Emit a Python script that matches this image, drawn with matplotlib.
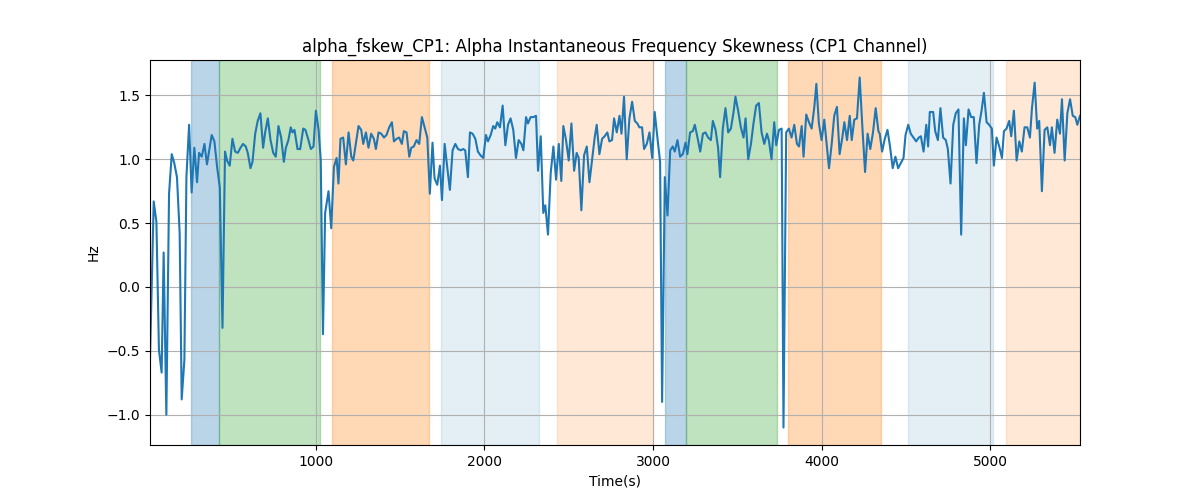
import numpy as np
import matplotlib
matplotlib.use("Agg")
import matplotlib.pyplot as plt

# sample times (s) and values (Hz)
t = [16, 38, 54, 69, 85, 97, 113, 129, 145, 160, 176, 192, 204, 220, 232, 248, 263, 279, 295, 307,
     323, 339, 354, 370, 382, 398, 414, 430, 446, 461, 473, 489, 505, 521, 537, 553, 568, 584, 596, 612,
     624, 640, 655, 671, 687, 699, 715, 731, 747, 762, 778, 794, 810,
     822, 837, 851, 861, 873, 891, 907, 925, 938, 954, 970, 986, 1000, 1016, 1029, 1042, 1055, 1075, 1091, 1107,
     1123, 1134, 1146, 1162, 1178, 1194, 1210, 1222, 1237, 1253, 1269, 1281, 1297, 1312, 1328, 1344, 1356, 1372,
     1388, 1404, 1419,
     1435, 1451, 1463, 1479, 1494, 1510, 1522, 1538, 1554, 1566, 1581, 1597, 1613, 1629, 1645, 1661, 1676, 1692,
     1704, 1720, 1736, 1748, 1764, 1779, 1795, 1811, 1827, 1843, 1859, 1874, 1886, 1902, 1914, 1930, 1946, 1961,
     1977, 1993, 2009, 2021, 2037, 2052, 2064, 2076, 2092, 2108, 2124, 2140, 2155, 2171, 2187, 2203, 2219, 2231,
     2247, 2258, 2274, 2290, 2306, 2318, 2334, 2349, 2361, 2377, 2393, 2409, 2425, 2441, 2456, 2468, 2484, 2500,
     2516, 2532, 2547, 2559, 2575, 2591, 2607, 2623, 2638, 2654, 2666, 2682, 2698, 2713, 2729, 2741, 2757, 2769,
     2785, 2801, 2813, 2828, 2844, 2860, 2876, 2892, 2907, 2919,
     2935, 2947, 2963, 2979, 2995, 3010, 3026, 3042, 3054, 3070, 3086, 3102, 3117, 3129, 3145, 3161, 3177, 3193,
     3204, 3220, 3236, 3248, 3264, 3280, 3296, 3311, 3327, 3343, 3355, 3371, 3386, 3398, 3414, 3430, 3446, 3462,
     3478, 3489, 3505, 3521, 3537, 3549, 3565, 3581, 3596, 3612, 3628, 3644, 3660, 3676, 3687, 3703, 3719, 3731,
     3747, 3763, 3774, 3790, 3806, 3822, 3838, 3854, 3866, 3882, 3893, 3909, 3925, 3941, 3957, 3969, 3984, 4000,
     4016, 4032, 4044, 4060, 4075, 4091, 4107, 4123, 4135, 4151, 4167, 4179, 4194, 4210, 4226, 4242, 4258, 4273,
     4289, 4305, 4321, 4337, 4345,
     4359, 4375, 4391, 4406, 4422, 4438, 4454, 4470, 4486, 4498, 4514, 4529, 4545, 4561, 4577, 4589, 4605, 4621,
     4632,
     4642, 4662, 4674, 4690, 4705, 4721, 4737, 4749, 4765, 4781, 4796, 4812, 4828, 4844, 4856, 4872, 4887, 4903,
     4919, 4935, 4949, 4963, 4979, 4994, 5010, 5022, 5038, 5054, 5070, 5082, 5097, 5113, 5125, 5141, 5157, 5173,
     5188, 5204, 5220, 5236, 5248, 5264, 5279, 5291, 5307, 5323, 5339, 5355, 5366, 5382, 5398, 5414, 5426, 5442,
     5458, 5474, 5490, 5505, 5517, 5533]

hz = [-0.56, 0.67, 0.51, -0.49, -0.67, 0.27, -1.0, 0.73, 1.04, 0.97, 0.86, 0.42, -0.88, -0.57, 0.86, 1.27, 0.74, 1.09, 0.82, 1.05,
      1.02, 1.12, 0.96, 1.09, 1.19, 1.14, 0.94, 0.78, -0.32, 1.06, 0.99, 0.95, 1.16, 1.06, 1.05, 1.09, 1.12, 1.10, 1.05, 0.93,
      0.98, 1.20, 1.30, 1.36, 1.09, 1.21, 1.32, 1.15, 1.05, 1.02, 1.26, 1.17, 0.98,
      1.09, 1.15, 1.25, 1.21, 1.23, 1.08, 1.08, 1.24, 1.23, 1.16, 1.08, 1.10, 1.38, 1.23, 0.99, -0.37, 0.58, 0.75, 0.46, 0.94,
      1.01, 0.81, 1.16, 1.17, 0.96, 1.21, 1.02, 0.99, 1.12, 1.26, 1.23, 1.12, 1.21, 1.09, 1.20, 1.16, 1.08, 1.21,
      1.20, 1.17, 1.19,
      1.25, 1.29, 1.14, 1.16, 1.17, 1.12, 1.22, 1.21, 1.02, 1.09, 1.10, 1.15, 1.12, 1.33, 1.25, 1.17, 0.73, 1.13,
      0.85, 0.80, 0.95, 0.68, 1.12, 0.94, 0.76, 1.07, 1.12, 1.08, 1.07, 1.08, 1.07, 0.86, 1.21, 1.20, 1.16, 1.06,
      1.03, 1.01, 1.19, 1.14, 1.19, 1.26, 1.24, 1.29, 1.25, 1.42, 1.11, 1.27, 1.32, 1.23, 1.01, 1.15, 1.12, 1.07,
      1.33, 1.28, 1.33, 1.33, 1.34, 0.91, 1.18, 0.58, 0.64, 0.41, 0.89, 1.10, 0.84, 1.12, 0.83, 1.26, 1.15, 0.99,
      1.28, 0.91, 1.05, 1.01, 0.60, 1.03, 1.10, 0.82, 0.99, 1.17, 1.27, 1.04, 1.16, 1.18, 1.21, 1.14, 1.15, 1.32,
      1.21, 1.34, 1.20, 1.49, 1.00, 1.32, 1.45, 1.30, 1.28, 1.25,
      1.25, 1.08, 1.12, 1.21, 1.01, 1.37, 1.17, 0.98, -0.90, 0.86, 0.56, 1.07, 1.10, 1.06, 1.15, 1.02, 1.04, 1.13,
      1.04, 1.21, 1.22, 1.27, 1.17, 1.06, 1.20, 1.21, 1.17, 1.15, 1.30, 1.23, 1.09, 0.86, 1.24, 1.40, 1.21, 1.24,
      1.37, 1.49, 1.38, 1.25, 1.17, 1.32, 1.00, 1.12, 1.28, 1.42, 1.44, 1.21, 1.12, 1.20, 1.15, 1.00, 1.29, 1.11,
      1.23, 1.24, -1.10, 1.21, 1.24, 1.17, 1.27, 1.12, 1.10, 1.26, 1.02, 1.35, 1.29, 1.24, 1.41, 1.59, 1.28, 1.15,
      1.31, 1.09, 0.93, 1.12, 1.34, 1.41, 1.04, 1.17, 1.29, 1.15, 1.34, 1.15, 1.31, 1.32, 1.64, 1.25, 0.90, 1.20,
      1.08, 1.21, 1.40, 1.22, 1.20,
      1.06, 1.16, 1.23, 1.10, 0.93, 1.02, 0.93, 0.97, 1.01, 1.19, 1.27, 1.20, 1.17, 1.14, 1.17, 1.18, 1.06, 1.27,
      1.10,
      1.37, 1.37, 1.22, 1.15, 1.40, 1.17, 1.15, 1.08, 0.81, 1.27, 1.36, 1.39, 0.41, 1.32, 1.11, 1.39, 1.33, 1.33,
      0.97, 1.27, 1.38, 1.52, 1.29, 1.27, 1.24, 0.95, 1.17, 1.10, 1.01, 1.22, 1.24, 1.30, 1.18, 1.38, 0.99, 1.14,
      1.06, 1.25, 1.25, 1.17, 1.40, 1.60, 1.24, 1.30, 0.75, 1.23, 1.25, 1.11, 1.25, 1.05, 1.31, 1.20, 1.47, 0.99,
      1.36, 1.47, 1.34, 1.33, 1.27, 1.34]

# shaded stage spans (start, end, colour, alpha)
span_start = [259, 426, 1093, 1744, 2429, 3074, 3197, 3800, 4513, 5093]
span_end = [426, 1027, 1673, 2326, 2999, 3197, 3737, 4355, 5018, 5533]
span_color = ['tab:blue', 'tab:green', 'tab:orange', 'tab:blue', 'tab:orange',
              'tab:blue', 'tab:green', 'tab:orange', 'tab:blue', 'tab:orange']
span_alpha = [0.3, 0.3, 0.3, 0.12, 0.17, 0.3, 0.3, 0.3, 0.12, 0.17]

fig, ax = plt.subplots(figsize=(12, 5), dpi=100)
for s, e, c, a in zip(span_start, span_end, span_color, span_alpha):
    ax.axvspan(s, e, color=c, alpha=a)
ax.plot(t, hz, color='tab:blue', linewidth=1.5)
ax.set_xlim(min(t), max(t))
ax.grid(True)
ax.set_title("alpha_fskew_CP1: Alpha Instantaneous Frequency Skewness (CP1 Channel)")
ax.set_xlabel("Time(s)")
ax.set_ylabel("Hz")
fig.savefig("out.png")
